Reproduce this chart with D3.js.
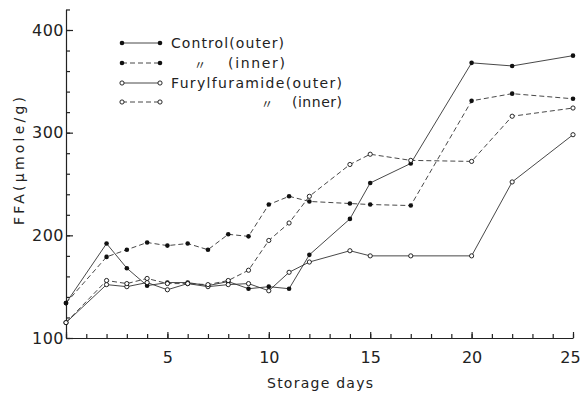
<!DOCTYPE html>
<html>
<head>
<meta charset="utf-8">
<script src="https://cdn.jsdelivr.net/npm/d3@7"></script>
<style>
  body { margin: 0; background: #fff; }
  text { font-family: "DejaVu Sans", sans-serif; fill: #222; }
  .axis path, .axis line { stroke: #222; stroke-width: 1.2; }
</style>
</head>
<body>
<div id="container"></div>
<script>
let days = [0, 2, 3, 4, 5, 6, 7, 8, 9, 10, 11, 12, 14, 15, 17, 20, 22, 25];
let controlOuter = [134, 192, 168, 151, 154, 154, 151, 155, 148, 150, 148, 181, 216, 251, 270, 368, 365, 375];
let controlInner = [134, 179, 186, 193, 190, 192, 186, 201, 199, 230, 238, 233, 231, 230, 229, 331, 338, 333];
let furylOuter = [115, 152, 150, 154, 147, 153, 150, 152, 153, 146, 164, 174, 185, 180, 180, 180, 252, 298];
let furylInner = [115, 156, 153, 158, 153, 153, 152, 156, 166, 195, 212, 238, 269, 279, 273, 272, 316, 324];
let seriesNames = ['Control(outer)', '\u3003 (inner)', 'Furylfuramide(outer)', '\u3003 (inner)'];
let yTicks = [100, 200, 300, 400];
let xTicks = [0, 5, 10, 15, 20, 25];

let width = 581;
let height = 397;

let series = [
    { values: controlOuter, filled: true, dash: null },
    { values: controlInner, filled: true, dash: '5,3' },
    { values: furylOuter, filled: false, dash: null },
    { values: furylInner, filled: false, dash: '5,3' }
];

let svg = d3.select('#container').append('svg')
    .attr('width', width).attr('height', height);

let xScale = d3.scaleLinear().domain([0, 25]).range([66, 573]);
let yScale = d3.scaleLinear().domain([100, 400]).range([338, 30]);
let yAxisScale = yScale.copy().domain([100, 420]).range([338, yScale(420)]);

// y axis: minor ticks every 20, majors every 100
svg.append('g').attr('class', 'axis')
    .attr('transform', 'translate(' + xScale(0) + ',0)')
    .call(d3.axisLeft(yAxisScale).tickValues(d3.range(100, 421, 20)).tickSize(-4).tickSizeOuter(0).tickFormat(''));
let yAxis = svg.append('g').attr('class', 'axis')
    .attr('transform', 'translate(' + xScale(0) + ',0)')
    .call(d3.axisLeft(yAxisScale).tickValues(yTicks).tickSize(-7).tickSizeOuter(0).tickPadding(2));
yAxis.selectAll('text').style('font-size', '16px').attr('letter-spacing', 0.5);
yAxis.select('.domain').remove();

// x axis
svg.append('g').attr('class', 'axis')
    .attr('transform', 'translate(0,' + yScale(100) + ')')
    .call(d3.axisBottom(xScale).tickValues(d3.range(0, 26, 1)).tickSize(-4).tickSizeOuter(0).tickFormat(''));
let xAxis = svg.append('g').attr('class', 'axis')
    .attr('transform', 'translate(0,' + yScale(100) + ')')
    .call(d3.axisBottom(xScale).tickValues(xTicks).tickSize(-6).tickSizeOuter(0).tickPadding(14)
        .tickFormat(d => d === 0 ? '' : d));
xAxis.selectAll('text').style('font-size', '16px')
    .attr('dx', d => d === 25 ? -3 : 0);
xAxis.select('.domain').remove();

svg.selectAll('.axis').attr('font-family', null).attr('font-size', null);

svg.append('text')
    .attr('transform', 'translate(19,161) rotate(-90)')
    .attr('text-anchor', 'middle').attr('dominant-baseline', 'central')
    .attr('textLength', 128).attr('lengthAdjust', 'spacing')
    .style('font-size', '14px')
    .text('FFA(\u03bcmole/g)');

svg.append('text')
    .attr('x', 267).attr('y', 383)
    .attr('dominant-baseline', 'central')
    .attr('textLength', 106).attr('lengthAdjust', 'spacing')
    .style('font-size', '14px')
    .text('Storage days');

let line = d3.line()
    .x((d, i) => xScale(days[i]))
    .y(d => yScale(d));

let drawMarker = function (g, cx, cy, filled) {
    g.append('circle')
        .attr('cx', cx).attr('cy', cy)
        .attr('r', filled ? 2.3 : 2.1)
        .attr('fill', filled ? '#111' : '#fff')
        .attr('stroke', '#111')
        .attr('stroke-width', filled ? 0 : 0.9);
};

let plot = svg.append('g');
series.forEach(s => {
    plot.append('path')
        .datum(s.values)
        .attr('fill', 'none')
        .attr('stroke', '#333')
        .attr('stroke-width', 0.9)
        .attr('stroke-dasharray', s.dash)
        .attr('d', line);
});
series.forEach(s => {
    s.values.forEach((v, i) => drawMarker(plot, xScale(days[i]), yScale(v), s.filled));
});

// legend
let legendRows = [43, 63, 83, 102];
let dittoX = [0, 194, 0, 261];
let textX = [171, 228, 171, 292];
let textEnd = [284, 285, 342, 342];
let legend = svg.append('g');
series.forEach((s, i) => {
    let yy = legendRows[i];
    legend.append('line')
        .attr('x1', 122).attr('x2', 160).attr('y1', yy).attr('y2', yy)
        .attr('stroke', '#333').attr('stroke-width', 0.9)
        .attr('stroke-dasharray', s.dash);
    drawMarker(legend, 122, yy, s.filled);
    drawMarker(legend, 160, yy, s.filled);
    let label = seriesNames[i];
    if (label[0] === '\u3003') {
        legend.append('text')
            .attr('x', dittoX[i]).attr('y', yy + 1)
            .attr('dominant-baseline', 'central')
            .style('font-family', '"Noto Sans CJK JP", sans-serif')
            .style('font-size', '12px')
            .text('\u3003');
        label = label.slice(2);
    }
    legend.append('text')
        .attr('x', textX[i]).attr('y', yy)
        .attr('dominant-baseline', 'central')
        .attr('textLength', textEnd[i] - textX[i]).attr('lengthAdjust', 'spacing')
        .style('font-size', '14px')
        .text(label);
});
</script>
</body>
</html>
